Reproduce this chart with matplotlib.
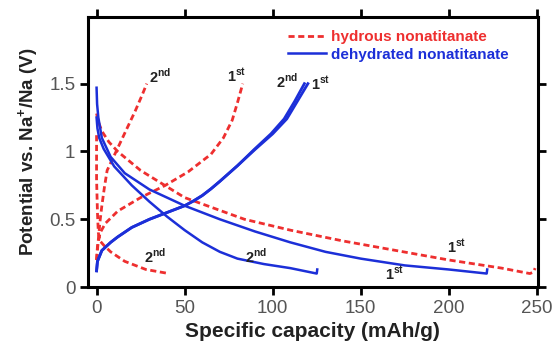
import numpy as np
import matplotlib.pyplot as plt

plt.rcParams['font.family'] = ['Liberation Sans', 'DejaVu Sans']

# hydrous nonatitanate (red dashed)
hyd_dis1_x = [0, 1, 3, 7, 12, 25, 50, 84, 110, 140, 170, 200, 230, 246, 248, 249]
hyd_dis1_y = [1.28, 1.22, 1.15, 1.07, 1.0, 0.86, 0.66, 0.50, 0.42, 0.34, 0.27, 0.20, 0.14, 0.10, 0.11, 0.14]
hyd_ch1_x = [0, 0.5, 2, 5, 12, 25, 39, 52, 65, 72, 77, 80, 83]
hyd_ch1_y = [0.2, 0.30, 0.40, 0.47, 0.56, 0.66, 0.75, 0.85, 0.98, 1.10, 1.23, 1.36, 1.50]
hyd_dis2_x = [0, 0, 0.5, 1, 2, 4, 8, 16, 28, 41]
hyd_dis2_y = [1.12, 0.8, 0.55, 0.40, 0.34, 0.31, 0.26, 0.19, 0.13, 0.10]
hyd_ch2_x = [0, 0.5, 1, 2, 3, 4.5, 6, 10, 14, 18, 22, 26, 28.5]
hyd_ch2_y = [0.2, 0.27, 0.35, 0.49, 0.60, 0.74, 0.86, 0.97, 1.08, 1.19, 1.30, 1.42, 1.50]

# dehydrated nonatitanate (blue solid)
deh_dis1_x = [0, 0.3, 1, 3, 8, 16, 30, 50, 70, 90, 110, 130, 150, 175, 200, 221.5, 221.8]
deh_dis1_y = [1.47, 1.35, 1.25, 1.10, 0.96, 0.84, 0.72, 0.60, 0.50, 0.41, 0.33, 0.26, 0.21, 0.16, 0.13, 0.10, 0.13]
deh_dis2_x = [0, 0.5, 1.5, 4, 10, 20, 30, 40, 50, 60, 70, 80, 95, 110, 125, 125.3]
deh_dis2_y = [1.25, 1.17, 1.10, 1.02, 0.89, 0.75, 0.63, 0.52, 0.42, 0.33, 0.26, 0.21, 0.17, 0.14, 0.10, 0.13]
deh_ch1_x = [0, 0.5, 3, 8, 12, 20, 30, 40, 50, 55, 60, 65, 70, 80, 90, 100, 108, 114, 120]
deh_ch1_y = [0.12, 0.19, 0.27, 0.33, 0.37, 0.44, 0.50, 0.55, 0.60, 0.635, 0.675, 0.725, 0.78, 0.895, 1.015, 1.13, 1.24, 1.37, 1.50]
deh_ch2_x = [0, 0.5, 3, 8, 12, 20, 30, 40, 50, 55, 60, 65, 70, 80, 89.5, 99, 106.5, 112.5, 118]
deh_ch2_y = [0.12, 0.19, 0.27, 0.33, 0.37, 0.44, 0.50, 0.55, 0.60, 0.635, 0.675, 0.725, 0.78, 0.895, 1.015, 1.13, 1.24, 1.37, 1.50]

red = '#ee2f2f'
blue = '#1c2fd8'
dash = (0, (2.2, 1.3))

fig = plt.figure(figsize=(5.59, 3.58), dpi=100)
ax = fig.add_axes([0.157, 0.198, 0.805, 0.754])

ax.plot(hyd_dis1_x, hyd_dis1_y, color=red, lw=2, ls=dash, label='hydrous nonatitanate')
ax.plot(hyd_ch1_x, hyd_ch1_y, color=red, lw=2, ls=dash)
ax.plot(hyd_dis2_x, hyd_dis2_y, color=red, lw=2, ls=dash)
ax.plot(hyd_ch2_x, hyd_ch2_y, color=red, lw=2, ls=dash)

ax.plot(deh_dis1_x, deh_dis1_y, color=blue, lw=1.8, label='dehydrated nonatitanate')
ax.plot(deh_dis2_x, deh_dis2_y, color=blue, lw=1.8)
ax.plot(deh_ch1_x, deh_ch1_y, color=blue, lw=2)
ax.plot(deh_ch2_x, deh_ch2_y, color=blue, lw=2)

# cycle labels
lab = dict(fontsize=10.5, fontweight='bold', color='#222222')
ax.text(30, 1.51, '2$^{\\mathregular{nd}}$', **lab)
ax.text(74, 1.51, '1$^{\\mathregular{st}}$', **lab)
ax.text(102, 1.47, '2$^{\\mathregular{nd}}$', **lab)
ax.text(122, 1.45, '1$^{\\mathregular{st}}$', **lab)
ax.text(27, 0.18, '2$^{\\mathregular{nd}}$', **lab)
ax.text(84, 0.18, '2$^{\\mathregular{nd}}$', **lab)
ax.text(199, 0.25, '1$^{\\mathregular{st}}$', **lab)
ax.text(164, 0.05, '1$^{\\mathregular{st}}$', **lab)

ax.set_xlim(-5, 250.5)
ax.set_ylim(0, 1.99)
ax.set_xticks([0, 50, 100, 150, 200, 250])
ax.set_yticks([0, 0.5, 1, 1.5])
ax.set_yticklabels(['0', '0.5', '1', '1.5'])
for s in ax.spines.values():
    s.set_linewidth(2.2)
ax.tick_params(direction='out', length=6, width=2, labelsize=13.5, labelcolor='#555555',
               top=True, right=True, pad=3)
ax.set_xlabel('Specific capacity (mAh/g)', fontsize=15, fontweight='bold', color='#222222', labelpad=4)
ax.set_ylabel('Potential vs. Na$^{\\mathregular{+}}$/Na (V)', fontsize=13.5, fontweight='bold',
              color='#222222', labelpad=6)

leg = ax.legend(loc='upper left', bbox_to_anchor=(200 / 450, 0.952), frameon=False,
                handlelength=2.5, handletextpad=0.33, labelspacing=0.24,
                borderaxespad=0, borderpad=0, prop={'weight': 'bold', 'size': 11})
for t, c in zip(leg.get_texts(), [red, blue]):
    t.set_color(c)

fig.savefig('out.png', dpi=100)
